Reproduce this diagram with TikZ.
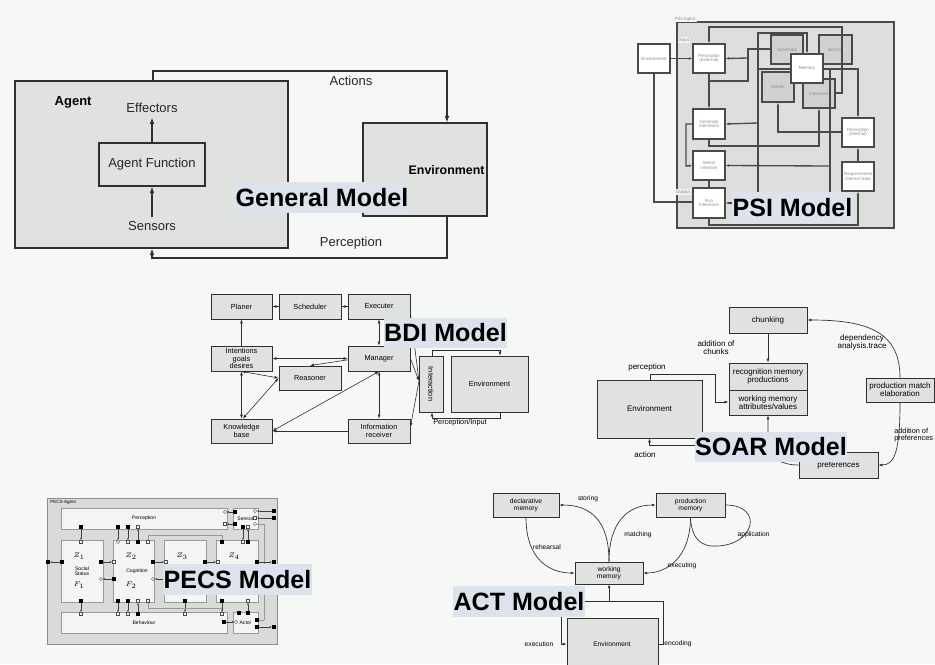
\documentclass[tikz,border=0pt]{standalone}
\usepackage{fontspec}
\setmainfont{Liberation Sans}
\usetikzlibrary{arrows.meta,fit}
\definecolor{bgc}{HTML}{F5F8F5}
\definecolor{boxg}{HTML}{E0E2E0}
\definecolor{lblc}{HTML}{DCE3EC}
\definecolor{lnc}{HTML}{303030}
\definecolor{psig}{HTML}{DDDFDD}
\definecolor{psib}{HTML}{D0D2D0}
\definecolor{psil}{HTML}{4A4A4A}
\definecolor{pecsg}{HTML}{D9DBD9}
\definecolor{pecsw}{HTML}{F3F5F3}
\newcommand\myfs[1]{\fontsize{#1}{#1}\selectfont}
\tikzset{
  gbox/.style={draw=lnc, fill=boxg, line width=0.8pt, inner sep=0pt},
  gtxt/.style={font=\myfs{9.75}, text=black!85},
  gboxt/.style={gbox, label={[gtxt]center:#1}},
  garr/.style={draw=lnc, line width=0.8pt, -{Latex[length=5pt,width=3.6pt]}},
  tlbl/.style={fill=lblc, inner sep=0pt, label={[font=\myfs{18.8}\bfseries, text=black, inner sep=0pt]center:#1}},
  psiw/.style={draw=psil, fill=white, line width=1.1pt, inner sep=0pt, label={[font=\myfs{3.4}, text=black!45, align=center, inner sep=0pt]center:#1}},
  psid/.style={psiw=#1, fill=psib},
  psiln/.style={draw=psil, line width=1pt},
  psiar/.style={psiln, -{Latex[length=2.5pt,width=2pt]}},
  psitx/.style={font=\myfs{3.4}, text=black!45, inner sep=1pt},
  bdibox/.style={draw=lnc, fill=boxg, line width=0.6pt, inner sep=0pt, label={[font=\myfs{5.5}, align=center, inner sep=0pt]center:#1}},
  bdiln/.style={draw=lnc, line width=0.45pt},
  bdiar/.style={bdiln, -{Latex[length=3pt,width=2.2pt]}},
  bdibb/.style={bdiln, {Latex[length=3pt,width=2.2pt]}-{Latex[length=3pt,width=2.2pt]}},
  soarbox/.style={draw=lnc, fill=boxg, line width=0.6pt, inner sep=0pt, label={[font=\myfs{6}, align=center, inner sep=0pt]center:#1}},
  soartx/.style={font=\myfs{6}, align=center},
  soarar/.style={draw=lnc, line width=0.5pt, -{Latex[length=3pt,width=2.2pt]}},
  pecsbox/.style={draw=black!40, fill=pecsw, line width=0.4pt, inner sep=0pt, label={[font=\myfs{3.8}, align=center, inner sep=0pt]center:#1}},
  pbk/.style={fill=black, inner sep=0pt, minimum size=2.6pt},
  pwh/.style={draw=black!70, fill=white, inner sep=0pt, minimum size=2.4pt, line width=0.3pt},
  pwc/.style={pwh, circle},
  pecsln/.style={draw=black!75, line width=0.35pt},
  pecsar/.style={pecsln, -{Latex[length=1.6pt,width=1.4pt]}},
  pecsgl/.style={draw=black!40, line width=0.4pt},
  actbox/.style={draw=lnc, fill=boxg, line width=0.6pt, inner sep=0pt, label={[font=\myfs{5}, align=center, inner sep=0pt]center:#1}},
  acttx/.style={font=\myfs{5}, inner sep=1pt},
  actar/.style={draw=lnc, line width=0.5pt, -{Latex[length=2.8pt,width=2.1pt]}},
}
\begin{document}
\begin{tikzpicture}[x=0.75pt,y=-0.75pt]
\useasboundingbox (0,0) rectangle (935,664);
\fill[bgc] (0,0) rectangle (935,664);
\clip (0,0) rectangle (935,664);

% ================= General Model =================
\node[gbox, fit={(15,81)(288,248)}] (agent) {};
\node[gbox, fit={(363,123)(487,216)}] (genv) {};
\node[font=\myfs{9.75}\bfseries, anchor=west] (agentt) at (50,102) {Agent};
\node[gtxt] (eff) at (152,108) {Effectors};
\node[gboxt={Agent Function}, fit={(99,143)(205,186)}] (af) {};
\node[gtxt] (sens) at (152,226) {Sensors};
\node[font=\myfs{9.3}\bfseries, anchor=west] (genvt) at (404,170) {Environment};
\node[gtxt] (actl) at (351,81) {Actions};
\node[gtxt] (percl) at (351,243) {Perception};
\draw[garr] (af.north) -- (eff.south);
\draw[garr] (sens.north) -- (af.south);
\coordinate (a1) at (153,71); \coordinate (a2) at (447,71);
\draw[garr] (agent.north -| a1) -- (a1) -- (a2) -- (genv.north -| a2);
\coordinate (p1) at (447,258); \coordinate (p2) at (152,258);
\draw[garr] (genv.south -| p1) -- (p1) -- (p2) -- (agent.south -| p2);

% ================= PSI Model =================
\node[draw=psil, fill=psig, line width=0.8pt, inner sep=0pt, fit={(677,22)(894,228)}] (psiag) {};
\node[psitx, fill=bgc] (psilab) at (685,19) {PSI-Agent};
\node[psitx, fill=white!60!psig] (inlab) at (684,40) {Input};
\node[psitx, fill=white!60!psig] (outlab) at (683,192) {Output};
\node[psiw={Environment}, fit={(638,44)(670,73)}] (penv) {};
\node[psiw={Perception\\(external)}, fit={(693,44)(725,73)}] (pext) {};
\node[psiw={Generate\\Intentions}, fit={(693,109)(725,139)}] (pgen) {};
\node[psiw={Select\\Intention}, fit={(693,151)(725,180)}] (psel) {};
\node[psiw={Run\\Intentions}, fit={(693,188)(725,218)}] (prun) {};
\node[psid={Schemata}, fit={(771,35)(803,64)}] (psch) {};
\node[psid={Actions}, fit={(819,35)(852,64)}] (pact) {};
\node[psid={Needs}, fit={(762,72)(794,102)}] (pneed) {};
\node[psid={Intentions}, fit={(803,79)(835,108)}] (pint) {};
\node[psiw={Memory}, fit={(791,54)(823,83)}] (pmem) {};
\node[psiw={Perception\\(internal)}, fit={(842,118)(874,147)}] (ppin) {};
\node[psiw={Requirements\\internal state}, fit={(842,162)(874,191)}] (preq) {};
\draw[psiar] (penv.east) -- (pext.west);
\coordinate (q1) at (654,202);
\draw[psiln] (penv.south -| q1) -- (q1) -- (prun.west |- q1);
\draw[psiar] (pext.south) -- (pgen.north);
\coordinate (q2) at (842,93); \coordinate (q3) at (842,27); \coordinate (q4) at (709,27);
\draw[psiar] (pint.east |- q2) -- (q2) -- (q3) -- (q4) -- (pext.north);
\coordinate (q5) at (748,49); \coordinate (q6) at (748,81); \coordinate (q7) at (709,81);
\draw[psiln] (psch.west |- q5) -- (q5) -- (q6) -- (q7);
\coordinate (q8) at (748,58);
\draw[psiar] (q8) -- (pext.east);
\coordinate (q9) at (758,33); \coordinate (q10) at (807,33); \coordinate (q11) at (758,193);
\draw[psiar] (q11) -- (q9) -- (q10) -- (pmem.north -| q10);
\coordinate (q12) at (758,69);
\draw[psiln] (q12) -- (pmem.west |- q12);
\coordinate (q13) at (858,69);
\draw[psiar] (pmem.east |- q13) -- (q13) -- (ppin.north -| q13);
\coordinate (q14) at (830,69); \coordinate (q15) at (830,192);
\draw[psiln] (q14) -- (q15);
\coordinate (q16) at (778,132);
\draw[psiar] (ppin.west |- q16) -- (q16) -- (pneed.south -| q16);
\coordinate (q17) at (709,146); \coordinate (q18) at (819,146);
\draw[psiar] (pgen.south) -- (q17) -- (q18) -- (pint.south -| q18);
\coordinate (q19) at (758,123);
\draw[psiar] (q19) -- (pgen.east);
\coordinate (q20) at (830,166);
\draw[psiar] (q20) -- (psel.east);
\coordinate (q21) at (686,124); \coordinate (q22) at (686,166);
\draw[psiar] (pgen.west) -- (q21) -- (q22) -- (psel.west);
\draw[psiln] (psel.south) -- (prun.north);
\coordinate (q23) at (734,203);
\draw[psiar] (q23) -- (prun.east);
\coordinate (q24) at (709,225); \coordinate (q25) at (858,225);
\draw[psiar] (prun.south) -- (q24) -- (q25) -- (preq.south -| q25);
\draw[psiar] (preq.north -| q25) -- (ppin.south -| q25);

% ================= BDI Model =================
\node[bdibox={Planer}, fit={(211,294)(272,319)}] (planer) {};
\node[bdibox={Scheduler}, fit={(279,294)(341,319)}] (sched) {};
\node[bdibox={Executer}, fit={(348,294)(410,319)}] (exec) {};
\node[bdibox={Intentions\\goals\\desires}, fit={(211,346)(272,371)}] (intent) {};
\node[bdibox={Manager}, fit={(348,346)(410,371)}] (manager) {};
\node[bdibox={Reasoner}, fit={(279,366)(341,390)}] (reason) {};
\node[bdibox={Knowledge\\base}, fit={(211,419)(272,443)}] (kb) {};
\node[bdibox={Information\\receiver}, fit={(348,419)(410,443)}] (ir) {};
\node[bdibox={}, fit={(419,356)(443,412)}] (inter) {};
\node[font=\myfs{5.5}, rotate=-90] (intert) at (inter.center) {Interaction};
\node[bdibox={Environment}, fit={(451,356)(528,412)}] (benv) {};
\draw[bdiar] (sched.west) -- (planer.east);
\draw[bdiar] (exec.west) -- (sched.east);
\draw[bdiar] (intent.north) -- (planer.south);
\draw[bdibb] (intent.east) -- (manager.west);
\draw[bdiar] ([yshift=-1pt]manager.west) -- (reason.north);
\draw[bdibb] (intent.south) -- (reason.west);
\draw[bdibb] (intent.south) -- (kb.north);
\draw[bdibb] (reason.west) -- ([xshift=1pt]kb.north);
\draw[bdibb] (manager.south) -- (kb.east);
\draw[bdibb] (manager.south) -- (ir.north);
\draw[bdiar] (ir.west) -- (kb.east);
\draw[bdibb] (exec.south) -- (manager.north);
\coordinate (b0) at (419,381);
\draw[bdiar] ([yshift=-5pt]exec.east) -- (b0);
\draw[bdiar] (manager.east) -- (b0);
\draw[bdiar] (b0) -- ([yshift=3pt]ir.east);
\coordinate (b1) at (432,350); \coordinate (b2) at (500,350);
\draw[bdiar] (inter.north -| b1) -- (b1) -- (b2) -- (benv.north -| b2);
\coordinate (b3) at (500,418); \coordinate (b4) at (432,418);
\draw[bdiar] (benv.south -| b3) -- (b3) -- (b4) -- (inter.south -| b4);
\node[font=\myfs{5.5}] (pinl) at (460,423) {Perception/Input};

% ================= SOAR Model =================
\node[soarbox={chunking}, fit={(729,307)(807,333)}] (chunk) {};
\node[soarbox={recognition memory\\productions}, fit={(729,363)(807,390)}] (recog) {};
\node[soarbox={working memory\\attributes/values}, fit={(729,390)(807,415)}] (swm) {};
\node[soarbox={production match\\elaboration}, fit={(866,378)(934,402)}] (pme) {};
\node[soarbox={preferences}, fit={(799,452)(878,478)}] (pref) {};
\node[soarbox={Environment}, fit={(597,380)(702,438)}] (senv) {};
\draw[soarar] (chunk.south) -- (recog.north);
\node[soartx] (adch) at (716,348) {addition of\\chunks};
\node[soartx] (sperc) at (647,367) {perception};
\node[soartx] (sact) at (645,455) {action};
\node[soartx] (sdep) at (862,342) {dependency\\analysis.trace};
\node[font=\myfs{5.5}, align=left, anchor=west, inner sep=0pt] (sadp) at (894,435) {addition of\\preferences};
\coordinate (s1) at (650,374); \coordinate (s2) at (715,374); \coordinate (s3) at (715,402);
\draw[soarar] (senv.north -| s1) -- (s1) -- (s2) -- (s3) -- (swm.west |- s3);
\coordinate (sj) at (768,445);
\draw[soarar] (pref.west) .. controls (782,465) and (768,458) .. (sj) -- (swm.south);
\draw[soarar] (sj) -| (senv.south);
\draw[soarar] (pme.north) .. controls (900,332) and (868,320) .. (chunk.east);
\draw[soarar] (pme.south) .. controls (900,450) and (895,465) .. (pref.east);

% ================= PECS Model =================
\node[draw=black!45, fill=pecsg, line width=0.5pt, inner sep=0pt, fit={(47,498)(277,644)}] (pecs) {};
\node[font=\myfs{3.4}, anchor=west, inner sep=0pt] (pecsl) at (50,502) {PECS-Agent};
\node[pecsbox={Perception}, fit={(61,508)(227,529)}] (pperc) {};
\node[pecsbox={Sensor}, fit={(233,508)(258,529)}] (psens) {};
\node[pecsbox={}, fit={(61,540)(103,602)}] (psoc) {};
\node[pecsbox={}, fit={(113,540)(154,602)}] (pcog) {};
\node[pecsbox={}, fit={(164,540)(206,602)}] (pb3) {};
\node[pecsbox={}, fit={(216,540)(258,602)}] (pb4) {};
\node[pecsbox={Behaviour}, fit={(61,612)(227,633)}] (pbeh) {};
\node[pecsbox={Actor}, fit={(233,612)(258,633)}] (pactor) {};
\node[font=\myfs{3.8}, align=center] (socst) at (82,571) {Social\\Status};
\node[font=\myfs{3.8}] (cogt) at (137,571) {Cognition};
\node[font=\myfs{4.2}] (z1) at (79,556) {$Z_1$};
\node[font=\myfs{4.2}] (f1) at (79,585) {$F_1$};
\node[font=\myfs{4.2}] (z2) at (131,556) {$Z_2$};
\node[font=\myfs{4.2}] (f2) at (131,585) {$F_2$};
\node[font=\myfs{4.2}] (z3) at (182,556) {$Z_3$};
\node[font=\myfs{4.2}] (z4) at (234,556) {$Z_4$};
% top ports
\node[pbk] (t1a) at (81,527) {}; \node[pwh] (t1b) at (81,542) {}; \draw[pecsar] (t1a) -- (t1b);
\node[pbk] (t2a) at (118,527) {}; \node[pwc] (t2b) at (118,542) {}; \draw[pecsar] (t2a) -- (t2b);
\node[pbk] (t3a) at (128,527) {}; \node[pwh] (t3b) at (128,542) {}; \draw[pecsar] (t3a) -- (t3b);
\node[pwh] (t4a) at (138,527) {}; \node[pbk] (t4b) at (138,542) {}; \draw[pecsar] (t4b) -- (t4a);
\node[pwh] (t5a) at (148,542) {}; \node[pbk] (t5b) at (222,542) {};
\coordinate (t5c) at (148,535); \coordinate (t5d) at (222,535);
\draw[pecsgl] (t5a) -- (t5c) -- (t5d) -- (t5b);
\node[pbk] (t6a) at (243,527) {}; \node[pwh] (t6b) at (243,542) {}; \draw[pecsar] (t6a) -- (t6b);
\node[pwh] (t7a) at (248,527) {}; \node[pbk] (t7b) at (248,542) {}; \draw[pecsar] (t7b) -- (t7a);
\node[pbk] (s1a) at (235,512) {}; \node[pwc] (s1b) at (225,512) {}; \draw[pecsar] (s1a) -- (s1b);
\node[pbk] (s2a) at (235,524) {}; \node[pwh] (s2b) at (225,524) {}; \draw[pecsar] (s2a) -- (s2b);
\node[pwc] (s3a) at (255,511) {}; \node[pbk] (s3b) at (274,511) {}; \draw[pecsar] (s3b) -- (s3a);
\node[pwh] (s4a) at (255,518) {}; \node[pbk] (s4b) at (274,518) {}; \draw[pecsar] (s4b) -- (s4a);
\node[pwc] (s5a) at (255,524) {}; \coordinate (s5c) at (264,524); \coordinate (s5d) at (264,620);
\draw[pecsgl] (s5a) -- (s5c) -- (s5d);
% middle ports
\node[pbk] (m1a) at (62,562) {}; \node[pbk] (m1b) at (48,562) {}; \draw[pecsar] (m1a) -- (m1b);
\node[pbk] (m2a) at (101,562) {}; \node[pwh] (m2b) at (114,562) {}; \draw[pecsar] (m2a) -- (m2b);
\node[pbk] (m3a) at (153,562) {}; \node[pwh] (m3b) at (166,562) {}; \draw[pecsar] (m3a) -- (m3b);
\node[pbk] (m4a) at (205,562) {}; \node[pwh] (m4b) at (218,562) {}; \draw[pecsar] (m4a) -- (m4b);
\node[pbk] (m5a) at (257,562) {}; \node[pbk] (m5b) at (274,562) {}; \draw[pecsar] (m5a) -- (m5b);
\node[pbk] (n1a) at (114,579) {}; \node[pwc] (n1b) at (101,579) {}; \draw[pecsar] (n1a) -- (n1b);
\node[pbk] (n2a) at (166,579) {}; \node[pwc] (n2b) at (153,579) {}; \draw[pecsar] (n2a) -- (n2b);
% bottom ports
\node[pbk] (u1a) at (81,601) {}; \node[pwh] (u1b) at (81,614) {}; \draw[pecsar] (u1a) -- (u1b);
\node[pbk] (u2a) at (118,601) {}; \node[pwh] (u2b) at (118,614) {}; \draw[pecsar] (u2a) -- (u2b);
\node[pbk] (u3a) at (128,601) {}; \node[pwh] (u3b) at (128,614) {}; \draw[pecsar] (u3a) -- (u3b);
\node[pwh] (u4a) at (138,601) {}; \node[pbk] (u4b) at (138,614) {}; \draw[pecsar] (u4b) -- (u4a);
\node[pwh] (u5a) at (148,601) {}; \coordinate (u5c) at (148,608); \coordinate (u5d) at (222,608);
\node[pbk] (u6a) at (185,601) {}; \node[pwh] (u6b) at (185,614) {}; \draw[pecsar] (u6a) -- (u6b);
\node[pbk] (u7a) at (222,601) {}; \node[pwh] (u7b) at (222,614) {}; \draw[pecsar] (u7a) -- (u7b);
\draw[pecsgl] (u5a) -- (u5c) -- (u5d);
\node[pwh] (u8a) at (248,601) {}; \node[pbk] (u8b) at (248,613) {}; \draw[pecsar] (u8b) -- (u8a);
\node[pbk] (u9a) at (239,613) {};
\node[pbk] (v1a) at (224,622) {}; \node[pwc] (v1b) at (236,622) {}; \draw[pecsar] (v1a) -- (v1b);
\node[pbk] (v2a) at (257,620) {}; \draw[pecsgl] (v2a) -- (s5d);
\node[pbk] (v3a) at (257,627) {}; \node[pbk] (v3b) at (274,627) {}; \draw[pecsar] (v3a) -- (v3b);

% ================= ACT Model =================
\node[actbox={declarative\\memory}, fit={(493,493)(559,517)}] (dm) {};
\node[actbox={production\\memory}, fit={(656,493)(725,517)}] (pm) {};
\node[actbox={working\\memory}, fit={(575,562)(643,584)}] (wmm) {};
\node[actbox={}, fit={(567,618)(658,670)}] (aenv) {};
\node[font=\myfs{5}] (aenvt) at (612,644) {Environment};
\draw[actar] (wmm.north) .. controls (609,522) and (592,505) .. (dm.east);
\draw[actar] (wmm.north) .. controls (609,522) and (628,505) .. (pm.west);
\draw[actar] (dm.south) .. controls (526,560) and (550,573) .. (wmm.west);
\draw[actar] (pm.south) .. controls (690,560) and (665,573) .. (wmm.east);
\coordinate (c1) at (712,546);
\draw[draw=lnc, line width=0.5pt] (pm.east) .. controls (765,505) and (755,548) .. (c1) .. controls (695,545) and (691,530) .. (pm.south);
\node[acttx] (lstor) at (588,499) {storing};
\node[acttx] (lmatch) at (638,535) {matching};
\node[acttx] (lreh) at (547,547) {rehearsal};
\node[acttx] (lexe) at (682,566) {executing};
\node[acttx, anchor=west] (lapp) at (736,535) {application};
\node[acttx] (lenc) at (678,644) {encoding};
\node[acttx] (lexn) at (539,644) {execution};
\coordinate (e1) at (663,644); \coordinate (e2) at (663,601); \coordinate (e3) at (609,601);
\draw[actar] (aenv.east |- e1) -- (e1) -- (e2) -- (e3) -- (wmm.south);
\coordinate (e4) at (561,601); \coordinate (e5) at (561,644);
\draw[actar] (e3) -- (e4) -- (e5) -- (aenv.west |- e5);

% ================= Titles =================
\node[tlbl={General Model}, fit={(235,182)(409,213)}] (tgen) {};
\node[tlbl={PSI Model}, fit={(732,192)(853,223)}] (tpsi) {};
\node[tlbl={BDI Model}, fit={(384,318)(507,348)}] (tbdi) {};
\node[tlbl={SOAR Model}, fit={(695,432)(847,462)}] (tsoar) {};
\node[tlbl={PECS Model}, fit={(163,564)(312,595)}] (tpecs) {};
\node[tlbl={ACT Model}, fit={(453,586)(585,617)}] (tact) {};
\end{tikzpicture}
\end{document}
